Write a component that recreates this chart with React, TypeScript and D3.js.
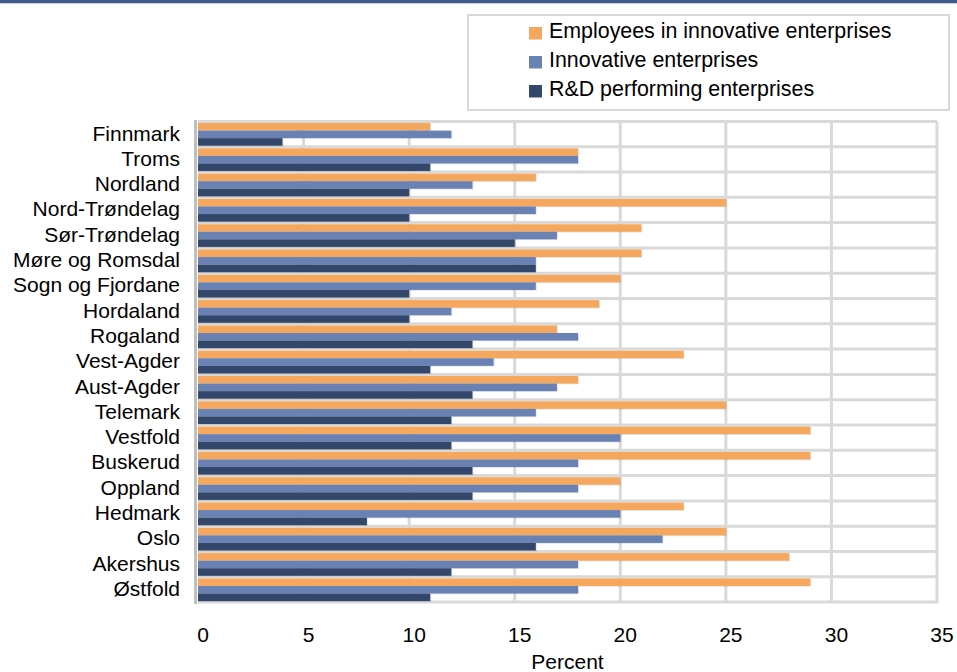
import React from "react";
import * as d3 from "d3";

const regions = [
  "Finnmark", "Troms", "Nordland", "Nord-Trøndelag", "Sør-Trøndelag",
  "Møre og Romsdal", "Sogn og Fjordane", "Hordaland", "Rogaland", "Vest-Agder",
  "Aust-Agder", "Telemark", "Vestfold", "Buskerud", "Oppland", "Hedmark",
  "Oslo", "Akershus", "Østfold",
];
const employeesInnovative = [11, 18, 16, 25, 21, 21, 20, 19, 17, 23, 18, 25, 29, 29, 20, 23, 25, 28, 29];
const innovativeEnterprises = [12, 18, 13, 16, 17, 16, 16, 12, 18, 14, 17, 16, 20, 18, 18, 20, 22, 18, 18];
const rdPerforming = [4, 11, 10, 10, 15, 16, 10, 10, 13, 11, 13, 12, 12, 13, 13, 8, 16, 12, 11];

const seriesNames = ["Employees in innovative enterprises", "Innovative enterprises", "R&D performing enterprises"];
const seriesValues = [employeesInnovative, innovativeEnterprises, rdPerforming];
const seriesColors = ["#F5A85D", "#6982B3", "#33476B"];
const xTicks = [0, 5, 10, 15, 20, 25, 30, 35];
const xTitle = "Percent";

const W = 957;
const H = 672;
const FONT = "'Liberation Sans', Arial, Helvetica, sans-serif";

export default function App() {
  const x = d3.scaleLinear().domain([0, 35]).range([198, 937]);
  const y = d3.scaleBand<string>().domain(regions).range([121.4, 602.1]).padding(0);
  const bw = y.bandwidth();
  const sub = d3.scaleBand<string>().domain(seriesNames).range([1.6, bw - 1]).padding(0);
  const top = y.range()[0];
  const bottom = y.range()[1];

  return (
    <svg width={W} height={H} style={{ position: "absolute", left: 0, top: 0, background: "#fff" }} fontFamily={FONT}>
      <rect x={0} y={0} width={W} height={H} fill="#fff" />
      <rect x={0} y={0} width={W} height={3.3} fill="#3F5A8A" />

      {/* Legend */}
      <rect x={468} y={15} width={481} height={95} fill="#fff" stroke="#D9D9D9" strokeWidth={2} />
      {seriesNames.map((s, i) => (
        <g key={s}>
          <rect x={529} y={27 + i * 29} width={13} height={12.5} fill={seriesColors[i]} />
          <text x={549} y={38.3 + i * 29} fontSize={21.4} fill="#000">{s}</text>
        </g>
      ))}

      {/* gridlines vertical */}
      {xTicks.filter((t) => t > 0).map((t) => (
        <line key={"v" + t} x1={x(t)} x2={x(t)} y1={top} y2={bottom} stroke="#D9D9D9" strokeWidth={3} />
      ))}
      {/* horizontal gridlines at band boundaries */}
      {regions.map((r) => (
        <line key={"h" + r} x1={x(0)} x2={x(35)} y1={y(r)!} y2={y(r)!} stroke="#D9D9D9" strokeWidth={3} />
      ))}
      <line x1={x(0)} x2={x(35) + 1.5} y1={bottom} y2={bottom} stroke="#D9D9D9" strokeWidth={3} />

      {/* bars */}
      {regions.map((r, ri) => (
        <g key={"b" + r}>
          {seriesNames.map((s, si) => {
            const v = seriesValues[si][ri];
            const by = y(r)! + sub(s)!;
            return (
              <g key={s}>
                <rect x={x(0)} y={by + 0.8} width={x(v) - x(0) + 1} height={sub.bandwidth()} fill="#000" opacity={0.1} />
                <rect x={x(0)} y={by} width={x(v) - x(0)} height={sub.bandwidth()} fill={seriesColors[si]} />
              </g>
            );
          })}
        </g>
      ))}

      {/* left axis */}
      <line x1={195.5} x2={195.5} y1={top - 1.5} y2={bottom + 2} stroke="#BFBFBF" strokeWidth={3} />

      {/* y labels */}
      {regions.map((r) => (
        <text key={"l" + r} x={180} y={y(r)! + bw / 2 + 6.5} textAnchor="end" fontSize={21} fill="#000">{r}</text>
      ))}

      {/* x tick labels */}
      {xTicks.map((t) => (
        <text key={"t" + t} x={x(t) + 5} y={641.7} textAnchor="middle" fontSize={21} fill="#000">{t}</text>
      ))}
      <text x={(x(0) + x(35)) / 2} y={669} textAnchor="middle" fontSize={21} fill="#000">{xTitle}</text>
    </svg>
  );
}
